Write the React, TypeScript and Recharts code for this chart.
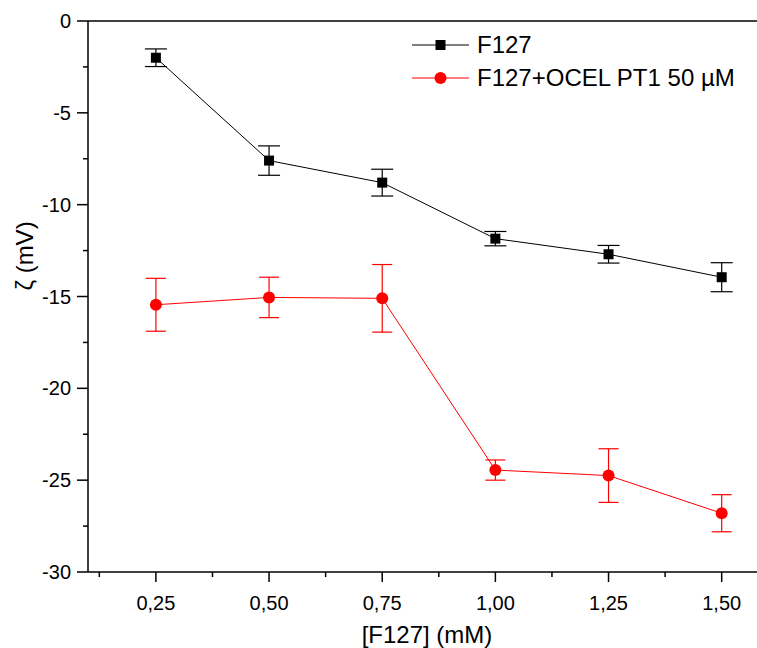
import { LineChart, Line, XAxis, YAxis, ErrorBar, ReferenceLine, Legend, Label } from "recharts";

const FONT = "'Liberation Sans', Arial, sans-serif";

// [F127] in mM
const concentrations = [0.25, 0.5, 0.75, 1.0, 1.25, 1.5];
// zeta potential (mV) and error bars
const f127Zeta = [-2.0, -7.6, -8.8, -11.85, -12.7, -13.95];
const f127Err = [0.48, 0.8, 0.73, 0.39, 0.48, 0.79];
const ocelZeta = [-15.45, -15.05, -15.1, -24.45, -24.75, -26.8];
const ocelErr = [1.44, 1.1, 1.84, 0.55, 1.46, 1.01];

const xTicks = [0.125, 0.25, 0.375, 0.5, 0.625, 0.75, 0.875, 1.0, 1.125, 1.25, 1.375, 1.5];
const yTicks = [-30, -27.5, -25, -22.5, -20, -17.5, -15, -12.5, -10, -7.5, -5, -2.5, 0];

const data = concentrations.map((x, i) => ({
  x,
  f127: f127Zeta[i],
  f127Err: f127Err[i],
  ocel: ocelZeta[i],
  ocelErr: ocelErr[i],
}));

const isMajorX = (v: number) => Math.abs(v * 4 - Math.round(v * 4)) < 1e-6;
const isMajorY = (v: number) => Math.abs(v / 5 - Math.round(v / 5)) < 1e-6;

function XTick(props: any) {
  const { x, y, payload } = props;
  const major = isMajorX(payload.value);
  return (
    <g>
      <line x1={x} y1={y} x2={x} y2={y + (major ? 10 : 5)} stroke="#000" strokeWidth={1.5} />
      {major && (
        <text x={x} y={y + 38} textAnchor="middle" fontSize={20} fontFamily={FONT} fill="#000">
          {payload.value.toFixed(2).replace(".", ",")}
        </text>
      )}
    </g>
  );
}

function YTick(props: any) {
  const { x, y, payload } = props;
  const major = isMajorY(payload.value);
  return (
    <g>
      <line x1={x - (major ? 11 : 5)} y1={y} x2={x} y2={y} stroke="#000" strokeWidth={1.5} />
      {major && (
        <text x={x - 17} y={y + 7} textAnchor="end" fontSize={20} fontFamily={FONT} fill="#000">
          {payload.value}
        </text>
      )}
    </g>
  );
}

function SquareDot(props: any) {
  const { cx, cy, index } = props;
  return <rect key={`sq-${index}`} x={cx - 5} y={cy - 5} width={10} height={10} fill="#000" />;
}

function LegendBox() {
  const row = { display: "flex", alignItems: "center", height: 33 } as const;
  return (
    <div style={{ fontFamily: FONT, fontSize: 24, color: "#000" }}>
      <div style={row}>
        <svg width={57} height={20}>
          <line x1={0} y1={10} x2={57} y2={10} stroke="#000" strokeWidth={1} />
          <rect x={23.5} y={5} width={10} height={10} fill="#000" />
        </svg>
        <span style={{ marginLeft: 8 }}>F127</span>
      </div>
      <div style={row}>
        <svg width={57} height={20}>
          <line x1={0} y1={10} x2={57} y2={10} stroke="#ff0000" strokeWidth={1} />
          <circle cx={28.5} cy={10} r={6} fill="#ff0000" />
        </svg>
        <span style={{ marginLeft: 8 }}>F127+OCEL PT1 50 µM</span>
      </div>
    </div>
  );
}

export default function App() {
  return (
    <div style={{ position: "absolute", left: 0, top: 0, fontFamily: FONT }}>
      <LineChart width={757} height={648} data={data} margin={{ top: 21, right: 0, bottom: 0, left: 0 }}>
        <XAxis
          dataKey="x"
          type="number"
          domain={[0.1, 1.578]}
          allowDataOverflow
          ticks={xTicks}
          interval={0}
          tickSize={0}
          tickMargin={0}
          tickLine={false}
          tick={<XTick />}
          height={76}
          axisLine={{ stroke: "#000", strokeWidth: 1.5 }}
        >
          <Label
            content={() => (
              <text x={427} y={643} textAnchor="middle" fontSize={24} fontFamily={FONT} fill="#000">
                [F127] (mM)
              </text>
            )}
          />
        </XAxis>
        <YAxis
          type="number"
          domain={[-30, 0]}
          allowDataOverflow
          ticks={yTicks}
          interval={0}
          tickSize={0}
          tickMargin={0}
          tickLine={false}
          tick={<YTick />}
          width={88}
          axisLine={{ stroke: "#000", strokeWidth: 1.5 }}
        >
          <Label
            content={() => (
              <text
                x={0}
                y={0}
                transform="translate(33 256) rotate(-90)"
                textAnchor="middle"
                fontSize={24}
                fontFamily={FONT}
                fill="#000"
              >
                ζ (mV)
              </text>
            )}
          />
        </YAxis>
        <ReferenceLine y={0} stroke="#000" strokeWidth={1.5} />
        <Legend
          layout="vertical"
          align="center"
          verticalAlign="middle"
          content={() => <LegendBox />}
          wrapperStyle={{ position: "absolute", top: 28, left: 412, width: 345 }}
        />
        <Line
          dataKey="f127"
          stroke="#000"
          strokeWidth={1}
          dot={SquareDot}
          activeDot={false}
          isAnimationActive={false}
          legendType="square"
        >
          <ErrorBar dataKey="f127Err" width={11} stroke="#000" strokeWidth={1.2} direction="y" />
        </Line>
        <Line
          dataKey="ocel"
          stroke="#ff0000"
          strokeWidth={1}
          dot={{ r: 6, fill: "#ff0000", stroke: "none" }}
          activeDot={false}
          isAnimationActive={false}
        >
          <ErrorBar dataKey="ocelErr" width={10} stroke="#ff0000" strokeWidth={1.2} direction="y" />
        </Line>
      </LineChart>
    </div>
  );
}
